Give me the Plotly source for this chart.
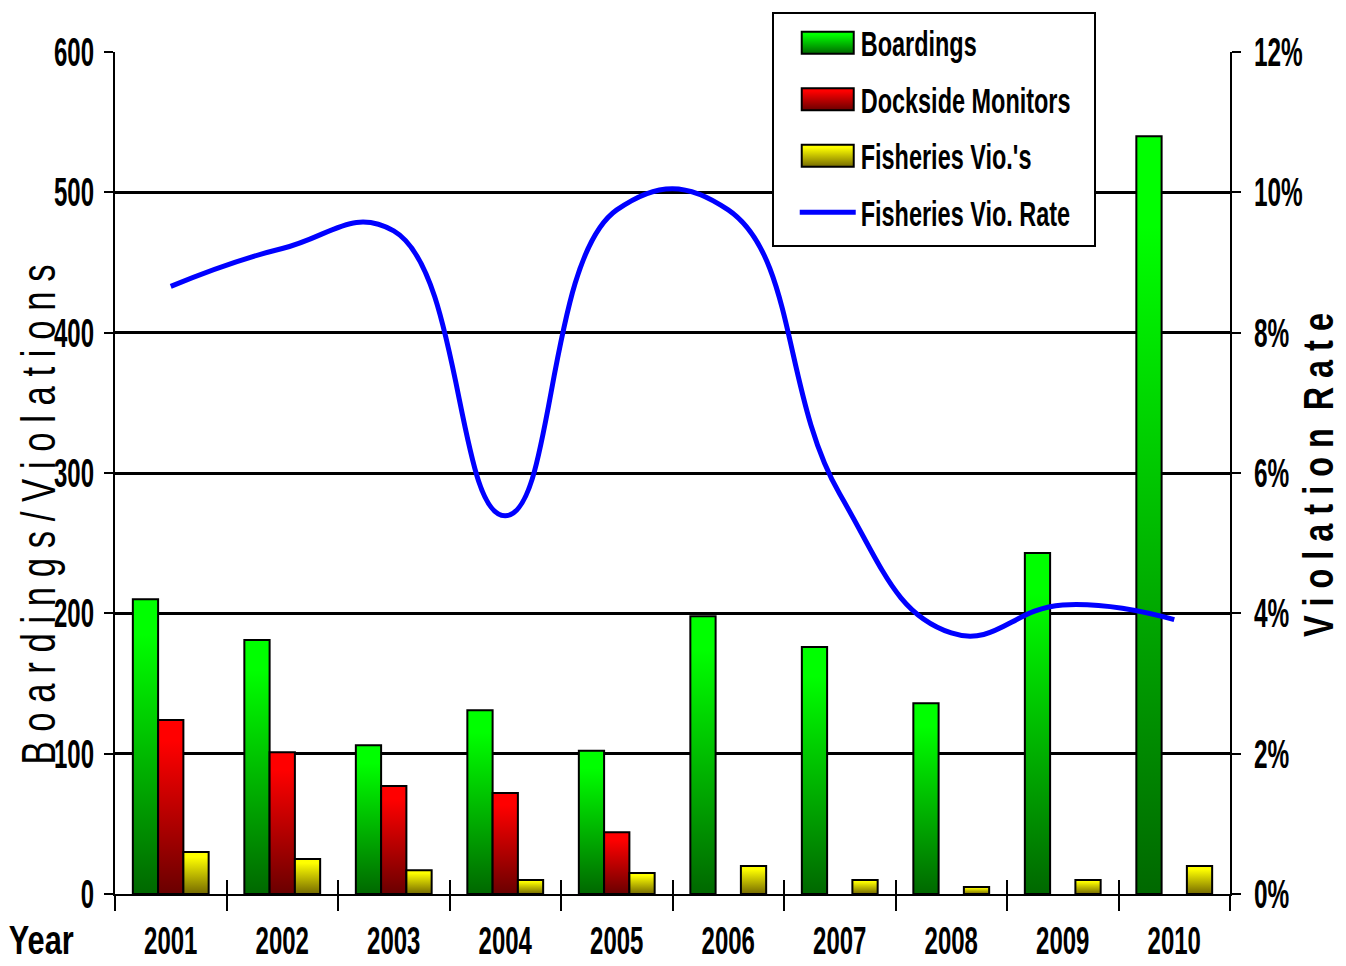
import plotly.graph_objects as go

# ---------------- data ----------------
years = ['2001', '2002', '2003', '2004', '2005', '2006', '2007', '2008', '2009', '2010']
boardings = [210, 181, 106, 131, 102, 198, 176, 136, 243, 540]
dockside_monitors = [124, 101, 77, 72, 44, None, None, None, None, None]
fisheries_vios = [30, 25, 17, 10, 15, 20, 10, 5, 10, 20]
vio_rate = [0.0866, 0.092, 0.0945, 0.0539, 0.0975, 0.0975, 0.057, 0.0372, 0.0412, 0.0391]

left_ticks = [0, 100, 200, 300, 400, 500, 600]
right_ticks = [0, 0.02, 0.04, 0.06, 0.08, 0.10, 0.12]
right_tick_text = ['0%', '2%', '4%', '6%', '8%', '10%', '12%']

FONT = "Liberation Sans Narrow, Arial Narrow, Liberation Sans, Arial, sans-serif"

fig = go.Figure()
fig.add_trace(go.Bar(name='Boardings', x=years, y=boardings, legendgroup='a',
                     marker=dict(color='#00B000', line=dict(color='black', width=2))))
fig.add_trace(go.Bar(name='Dockside Monitors', x=years, y=dockside_monitors, legendgroup='b',
                     marker=dict(color='#C00000', line=dict(color='black', width=2))))
fig.add_trace(go.Bar(name="Fisheries Vio.'s", x=years, y=fisheries_vios, legendgroup='c',
                     marker=dict(color='#C8C800', line=dict(color='black', width=2))))
fig.add_trace(go.Scatter(name='Fisheries Vio. Rate', x=years, y=vio_rate, legendgroup='d',
                         xaxis='x2', yaxis='y2', mode='lines',
                         line=dict(color='#0000FF', width=5, shape='spline', smoothing=1.3)))

fig.update_layout(
    width=1346, height=966,
    margin=dict(l=115, r=116, t=52, b=72, pad=0),
    paper_bgcolor='white', plot_bgcolor='white',
    barmode='group', bargap=0.32, bargroupgap=0,
    font=dict(family=FONT, color='black'),
    showlegend=True,
    legend=dict(x=0.589, y=1.048, xanchor='left', yanchor='top',
                bgcolor='white', bordercolor='black', borderwidth=2,
                font=dict(family=FONT, size=35, weight='bold', color='black'),
                itemwidth=56, indentation=21, traceorder='grouped', tracegroupgap=8),
    xaxis=dict(type='category', range=[-0.5, 9.5], showline=True, linecolor='black', linewidth=2,
               ticks='outside', tickson='boundaries', ticklen=15, tickwidth=2, tickcolor='black',
               showgrid=False, zeroline=False, ticklabelstandoff=12, automargin=False,
               tickfont=dict(family=FONT, size=38, weight='bold', color='black')),
    xaxis2=dict(type='category', range=[-0.5, 9.5], overlaying='x', anchor='y', side='bottom',
                showline=False, ticks='inside', tickson='boundaries', ticklen=14, tickwidth=2,
                tickcolor='black', showticklabels=False, showgrid=False, zeroline=False,
                automargin=False),
    yaxis=dict(range=[0, 600], tickvals=left_ticks, showgrid=True, gridcolor='black', gridwidth=2.5,
               showline=True, linecolor='black', linewidth=2, ticks='outside', ticklen=9,
               tickwidth=2, tickcolor='black', zeroline=False, ticklabelstandoff=2,
               automargin=False,
               tickfont=dict(family=FONT, size=40, weight='bold', color='black')),
    yaxis2=dict(range=[0, 0.12], tickvals=right_ticks, ticktext=right_tick_text, overlaying='y',
                side='right', anchor='x2', showgrid=False, showline=True, linecolor='black',
                linewidth=2, ticks='outside', ticklen=9, tickwidth=2, tickcolor='black',
                zeroline=False, ticklabelstandoff=5, automargin=False,
                tickfont=dict(family=FONT, size=40, weight='bold', color='black')),
    annotations=[
        dict(text='Year', xref='paper', yref='paper', x=-0.0655, y=-0.055, showarrow=False,
             xanchor='center', yanchor='middle', name='year',
             font=dict(family=FONT, size=40, weight='bold', color='black')),
        dict(text='B o a r d i n g s / V i o l a t i o n s', xref='paper', yref='paper',
             x=-0.069, y=0.45, textangle=-90, showarrow=False, xanchor='center', yanchor='middle',
             name='ltitle', font=dict(family=FONT, size=49, color='black')),
        dict(text='V i o l a t i o n &nbsp;R a t e', xref='paper', yref='paper',
             x=1.079, y=0.4976, textangle=-90, showarrow=False, xanchor='center', yanchor='middle',
             name='rtitle', font=dict(family=FONT, size=43, weight='bold', color='black')),
    ],
)

post_js = """
document.body.style.margin = '0';
document.body.style.padding = '0';
var gd = document.getElementById('{plot_id}');
try {
  var ns = 'http://www.w3.org/2000/svg';
  var svg = gd.querySelector('svg.main-svg');
  var defs = svg.querySelector('defs');
  if (!defs) { defs = document.createElementNS(ns, 'defs'); svg.insertBefore(defs, svg.firstChild); }
  function mk(id, c1, c2) {
    var g = document.createElementNS(ns, 'linearGradient');
    g.setAttribute('id', id);
    g.setAttribute('x1', '0'); g.setAttribute('y1', '0');
    g.setAttribute('x2', '0'); g.setAttribute('y2', '1');
    [[0, c1], [0.12, c1], [1, c2]].forEach(function (s) {
      var st = document.createElementNS(ns, 'stop');
      st.setAttribute('offset', String(s[0]));
      st.setAttribute('stop-color', s[1]);
      g.appendChild(st);
    });
    defs.appendChild(g);
  }
  mk('gradG', '#00FF00', '#006800');
  mk('gradR', '#FF0000', '#6A0000');
  mk('gradY', '#FFFF00', '#756A00');
  var ids = ['gradG', 'gradR', 'gradY'];
  gd.querySelectorAll('.barlayer .trace').forEach(function (t, i) {
    if (i < 3) {
      t.querySelectorAll('path').forEach(function (p) { p.style.fill = 'url(#' + ids[i] + ')'; });
    }
  });
  gd.querySelectorAll('.legend .traces').forEach(function (t, i) {
    if (i < 3) {
      t.querySelectorAll('.legendpoints path').forEach(function (p) {
        p.setAttribute('d', 'M26,11H-26V-11H26Z');
        p.style.fill = 'url(#' + ids[i] + ')';
      });
    }
  });
  // narrow, tall lettering as in the original
  function squeeze(sel, f) {
    gd.querySelectorAll(sel).forEach(function (el) {
      var w = el.getComputedTextLength();
      if (w > 0) {
        el.setAttribute('textLength', (w * f).toFixed(1));
        el.setAttribute('lengthAdjust', 'spacingAndGlyphs');
      }
    });
  }
  function fixlen(el, L) {
    if (!el) return;
    el.setAttribute('textLength', String(L));
    el.setAttribute('lengthAdjust', 'spacingAndGlyphs');
  }
  squeeze('g.xtick text', 0.63);
  squeeze('g.ytick text', 0.60);
  squeeze('g.y2tick text', 0.61);
  squeeze('.legend .legendtext', 0.67);
  var ann = gd.querySelectorAll('.annotation-text');
  fixlen(ann[0], 65);
  fixlen(ann[1], 500);
  fixlen(ann[2], 324);
  var bg = gd.querySelector('.legend rect.bg');
  if (bg) { bg.setAttribute('width', '322'); bg.setAttribute('height', '233'); }
} catch (e) { console.log(e); }
"""

fig.write_html("out.html", post_script=post_js, config={'displayModeBar': False})
